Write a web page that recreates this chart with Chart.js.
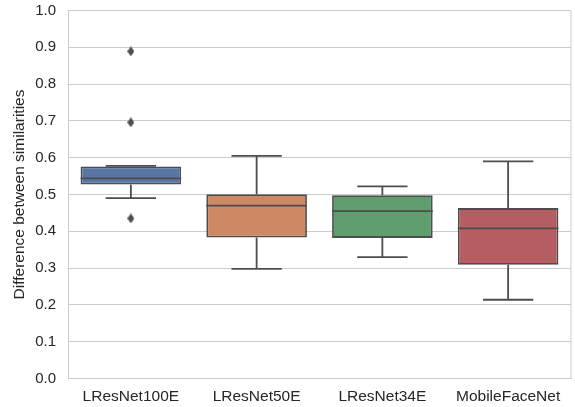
<!DOCTYPE html>
<html>
<head>
<meta charset="utf-8">
<script src="https://cdn.jsdelivr.net/npm/chart.js@4"></script>
<style>
  html, body { margin: 0; padding: 0; background: #fff; }
  #wrap { width: 575px; height: 407px; }
</style>
</head>
<body>
<div id="wrap"><canvas id="box-chart"></canvas></div>
<script>
const models = ["LResNet100E", "LResNet50E", "LResNet34E", "MobileFaceNet"];
const lowWhisker = [0.490, 0.298, 0.330, 0.214];
const q1 = [0.527, 0.383, 0.382, 0.309];
const median = [0.544, 0.470, 0.455, 0.408];
const q3 = [0.576, 0.501, 0.498, 0.463];
const highWhisker = [0.578, 0.605, 0.522, 0.590];
const outlierModel = ["LResNet100E", "LResNet100E", "LResNet100E"];
const outlierValue = [0.889, 0.696, 0.435];
const boxColors = ["#5975a4", "#cc8963", "#5f9e6e", "#b55d60"];
const yTicks = [0, 0.1, 0.2, 0.3, 0.4, 0.5, 0.6, 0.7, 0.8, 0.9, 1.0];

const lineColor = "#4d4d4d";
const fontFamily = "'Liberation Sans', Arial, sans-serif";

// thin diamond marker (like matplotlib 'd')
const diamond = document.createElement("canvas");
diamond.width = 7;
diamond.height = 10;
const dctx = diamond.getContext("2d");
dctx.fillStyle = lineColor;
dctx.beginPath();
dctx.moveTo(3.5, 0);
dctx.lineTo(7, 5);
dctx.lineTo(3.5, 10);
dctx.lineTo(0, 5);
dctx.closePath();
dctx.fill();

// whiskers + median drawn on top of the floating bars
const whiskerPlugin = {
  id: "whiskers",
  afterDatasetsDraw(chart) {
    const ctx = chart.ctx;
    const y = chart.scales.y;
    const meta = chart.getDatasetMeta(0);
    ctx.save();
    ctx.strokeStyle = lineColor;
    ctx.lineWidth = 1.8;
    meta.data.forEach((bar, i) => {
      const cx = bar.x;
      const half = bar.width / 2;
      const capHalf = half / 2;
      ctx.beginPath();
      // upper whisker
      ctx.moveTo(cx, y.getPixelForValue(q3[i]));
      ctx.lineTo(cx, y.getPixelForValue(highWhisker[i]));
      ctx.moveTo(cx - capHalf, y.getPixelForValue(highWhisker[i]));
      ctx.lineTo(cx + capHalf, y.getPixelForValue(highWhisker[i]));
      // lower whisker
      ctx.moveTo(cx, y.getPixelForValue(q1[i]));
      ctx.lineTo(cx, y.getPixelForValue(lowWhisker[i]));
      ctx.moveTo(cx - capHalf, y.getPixelForValue(lowWhisker[i]));
      ctx.lineTo(cx + capHalf, y.getPixelForValue(lowWhisker[i]));
      // median
      ctx.moveTo(cx - half, y.getPixelForValue(median[i]));
      ctx.lineTo(cx + half, y.getPixelForValue(median[i]));
      ctx.stroke();
    });
    ctx.restore();
  }
};

new Chart(document.getElementById("box-chart"), {
  type: "bar",
  data: {
    labels: models,
    datasets: [{
      label: "box",
      data: models.map((m, i) => [q1[i], q3[i]]),
      backgroundColor: boxColors,
      borderColor: lineColor,
      borderWidth: 1.8,
      borderSkipped: false,
      barPercentage: 0.8,
      categoryPercentage: 1.0,
      order: 2
    }, {
      type: "line",
      label: "outliers",
      data: outlierModel.map((m, i) => ({ x: m, y: outlierValue[i] })),
      showLine: false,
      pointStyle: diamond,
      pointRadius: 4,
      backgroundColor: lineColor,
      borderColor: lineColor,
      borderWidth: 0,
      order: 1
    }]
  },
  options: {
    responsive: true,
    maintainAspectRatio: false,
    animation: false,
    layout: { padding: { left: 0, right: 4, top: 10.5, bottom: 0 } },
    plugins: {
      legend: { display: false },
      tooltip: { enabled: false }
    },
    scales: {
      x: {
        grid: { display: false, drawTicks: false },
        border: { display: true, color: "#cccccc", width: 1 },
        ticks: { color: "#262626", font: { family: fontFamily, size: 15.5 }, padding: 9 },
        afterFit(scale) {
          scale.height = 28.5;
          scale.paddingLeft = 0;
          scale.paddingRight = 0;
        }
      },
      y: {
        min: 0,
        max: 1,
        afterBuildTicks(scale) { scale.ticks = yTicks.map(v => ({ value: v })); },
        grid: { color: "#cccccc", lineWidth: 1, drawTicks: false },
        border: { display: true, color: "#cccccc", width: 1 },
        ticks: {
          color: "#262626",
          font: { family: fontFamily, size: 15 },
          padding: 12,
          callback: v => v.toFixed(1)
        },
        title: {
          display: true,
          text: "Difference between similarities",
          color: "#262626",
          font: { family: fontFamily, size: 15.5 },
          padding: { top: 10, bottom: 0 }
        },
        afterFit(scale) {
          scale.width = 68;
          scale.paddingTop = 0;
          scale.paddingBottom = 0;
        }
      }
    }
  },
  plugins: [whiskerPlugin, {
    id: "frame",
    afterDraw(chart) {
      const a = chart.chartArea;
      const ctx = chart.ctx;
      ctx.save();
      ctx.strokeStyle = "#cccccc";
      ctx.lineWidth = 1;
      ctx.beginPath();
      ctx.moveTo(a.right, a.top);
      ctx.lineTo(a.right, a.bottom);
      ctx.stroke();
      ctx.restore();
    }
  }]
});
</script>
</body>
</html>
